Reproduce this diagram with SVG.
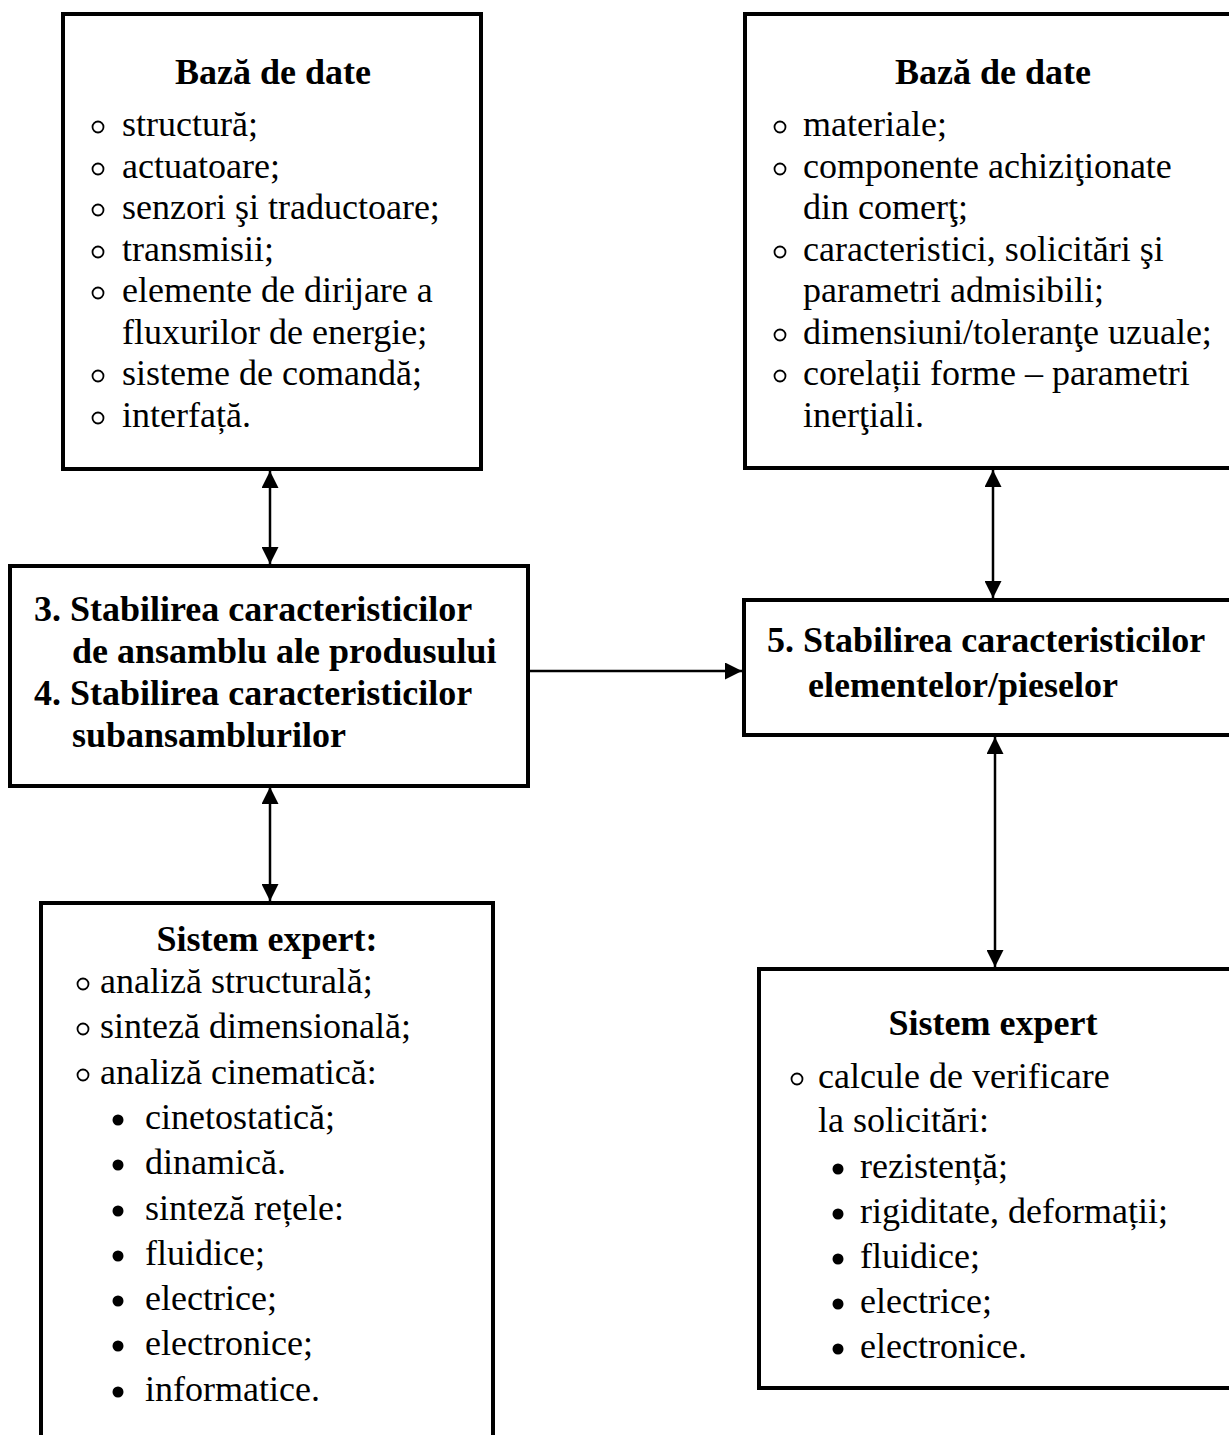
<svg xmlns="http://www.w3.org/2000/svg" width="1229" height="1435" viewBox="0 0 1229 1435">
  <style>
    .box { fill: #ffffff; stroke: #000000; stroke-width: 4; }
    .link { fill: none; stroke: #000000; stroke-width: 2.5; }
    .t { font-family: "Liberation Serif", "Times New Roman", serif; font-size: 36px; fill: #000000; }
    .b { font-weight: bold; }
    .mid { text-anchor: middle; }
    .ring { fill: none; stroke: #000000; stroke-width: 1.8; }
    .dot { fill: #000000; }
  </style>
  <defs>
    <marker id="arrow" markerUnits="userSpaceOnUse" markerWidth="17" markerHeight="17" refX="16" refY="8" orient="auto-start-reverse" viewBox="0 0 16 16">
      <path d="M0,0 L16,8 L0,16 z" fill="#000000"/>
    </marker>
  </defs>
  <rect width="1229" height="1435" fill="#ffffff"/>

  <!-- connectors -->
  <g id="connectors">
    <line class="link" x1="270" y1="471" x2="270" y2="564" marker-start="url(#arrow)" marker-end="url(#arrow)"/>
    <line class="link" x1="270" y1="787" x2="270" y2="901" marker-start="url(#arrow)" marker-end="url(#arrow)"/>
    <line class="link" x1="529" y1="671" x2="742" y2="671" marker-end="url(#arrow)"/>
    <line class="link" x1="993" y1="470" x2="993" y2="598" marker-start="url(#arrow)" marker-end="url(#arrow)"/>
    <line class="link" x1="995" y1="737" x2="995" y2="967" marker-start="url(#arrow)" marker-end="url(#arrow)"/>
  </g>

  <!-- database: structure components -->
  <g id="db-left">
    <rect class="box" x="63" y="14" width="418" height="455"/>
    <text class="t b mid" x="273" y="84">Bază de date</text>
    <g>
      <circle class="ring" cx="98" cy="127" r="5.5"/>
      <circle class="ring" cx="98" cy="169" r="5.5"/>
      <circle class="ring" cx="98" cy="210" r="5.5"/>
      <circle class="ring" cx="98" cy="252" r="5.5"/>
      <circle class="ring" cx="98" cy="293" r="5.5"/>
      <circle class="ring" cx="98" cy="376" r="5.5"/>
      <circle class="ring" cx="98" cy="418" r="5.5"/>
    </g>
    <text class="t" x="122" y="136">structură;</text>
    <text class="t" x="122" y="178">actuatoare;</text>
    <text class="t" x="122" y="219">senzori şi traductoare;</text>
    <text class="t" x="122" y="261">transmisii;</text>
    <text class="t" x="122" y="302">elemente de dirijare a</text>
    <text class="t" x="122" y="344">fluxurilor de energie;</text>
    <text class="t" x="122" y="385">sisteme de comandă;</text>
    <text class="t" x="122" y="427">interfață.</text>
  </g>

  <!-- database: materials and parts -->
  <g id="db-right">
    <rect class="box" x="745" y="14" width="500" height="454"/>
    <text class="t b mid" x="993" y="84">Bază de date</text>
    <g>
      <circle class="ring" cx="780" cy="127" r="5.5"/>
      <circle class="ring" cx="780" cy="169" r="5.5"/>
      <circle class="ring" cx="780" cy="252" r="5.5"/>
      <circle class="ring" cx="780" cy="335" r="5.5"/>
      <circle class="ring" cx="780" cy="376" r="5.5"/>
    </g>
    <text class="t" x="803" y="136">materiale;</text>
    <text class="t" x="803" y="178">componente achiziţionate</text>
    <text class="t" x="803" y="219">din comerţ;</text>
    <text class="t" x="803" y="261">caracteristici, solicitări şi</text>
    <text class="t" x="803" y="302">parametri admisibili;</text>
    <text class="t" x="803" y="344">dimensiuni/toleranţe uzuale;</text>
    <text class="t" x="803" y="385">corelații forme – parametri</text>
    <text class="t" x="803" y="427">inerţiali.</text>
  </g>

  <!-- steps 3 and 4 -->
  <g id="step-3-4">
    <rect class="box" x="10" y="566" width="518" height="220"/>
    <text class="t b" x="34" y="621">3. Stabilirea caracteristicilor</text>
    <text class="t b" x="72" y="663">de ansamblu ale produsului</text>
    <text class="t b" x="34" y="705">4. Stabilirea caracteristicilor</text>
    <text class="t b" x="72" y="747">subansamblurilor</text>
  </g>

  <!-- step 5 -->
  <g id="step-5">
    <rect class="box" x="744" y="600" width="500" height="135"/>
    <text class="t b" x="767" y="652">5. Stabilirea caracteristicilor</text>
    <text class="t b" x="808" y="697">elementelor/pieselor</text>
  </g>

  <!-- expert system: kinematics -->
  <g id="expert-left">
    <rect class="box" x="41" y="903" width="452" height="560"/>
    <text class="t b mid" x="267" y="951">Sistem expert:</text>
    <g>
      <circle class="ring" cx="83" cy="984" r="5.5"/>
      <circle class="ring" cx="83" cy="1029" r="5.5"/>
      <circle class="ring" cx="83" cy="1075" r="5.5"/>
      <circle class="dot" cx="118" cy="1120" r="5.5"/>
      <circle class="dot" cx="118" cy="1165" r="5.5"/>
      <circle class="dot" cx="118" cy="1211" r="5.5"/>
      <circle class="dot" cx="118" cy="1256" r="5.5"/>
      <circle class="dot" cx="118" cy="1301" r="5.5"/>
      <circle class="dot" cx="118" cy="1346" r="5.5"/>
      <circle class="dot" cx="118" cy="1392" r="5.5"/>
    </g>
    <text class="t" x="100" y="993">analiză structurală;</text>
    <text class="t" x="100" y="1038">sinteză dimensională;</text>
    <text class="t" x="100" y="1084">analiză cinematică:</text>
    <text class="t" x="145" y="1129">cinetostatică;</text>
    <text class="t" x="145" y="1174">dinamică.</text>
    <text class="t" x="145" y="1220">sinteză rețele:</text>
    <text class="t" x="145" y="1265">fluidice;</text>
    <text class="t" x="145" y="1310">electrice;</text>
    <text class="t" x="145" y="1355">electronice;</text>
    <text class="t" x="145" y="1401">informatice.</text>
  </g>

  <!-- expert system: strength checks -->
  <g id="expert-right">
    <rect class="box" x="759" y="969" width="490" height="419"/>
    <text class="t b mid" x="993" y="1035">Sistem expert</text>
    <g>
      <circle class="ring" cx="797" cy="1079" r="5.5"/>
      <circle class="dot" cx="838" cy="1169" r="5.5"/>
      <circle class="dot" cx="838" cy="1214" r="5.5"/>
      <circle class="dot" cx="838" cy="1259" r="5.5"/>
      <circle class="dot" cx="838" cy="1304" r="5.5"/>
      <circle class="dot" cx="838" cy="1349" r="5.5"/>
    </g>
    <text class="t" x="818" y="1088">calcule de verificare</text>
    <text class="t" x="818" y="1132">la solicitări:</text>
    <text class="t" x="860" y="1178">rezistență;</text>
    <text class="t" x="860" y="1223">rigiditate, deformații;</text>
    <text class="t" x="860" y="1268">fluidice;</text>
    <text class="t" x="860" y="1313">electrice;</text>
    <text class="t" x="860" y="1358">electronice.</text>
  </g>
</svg>
